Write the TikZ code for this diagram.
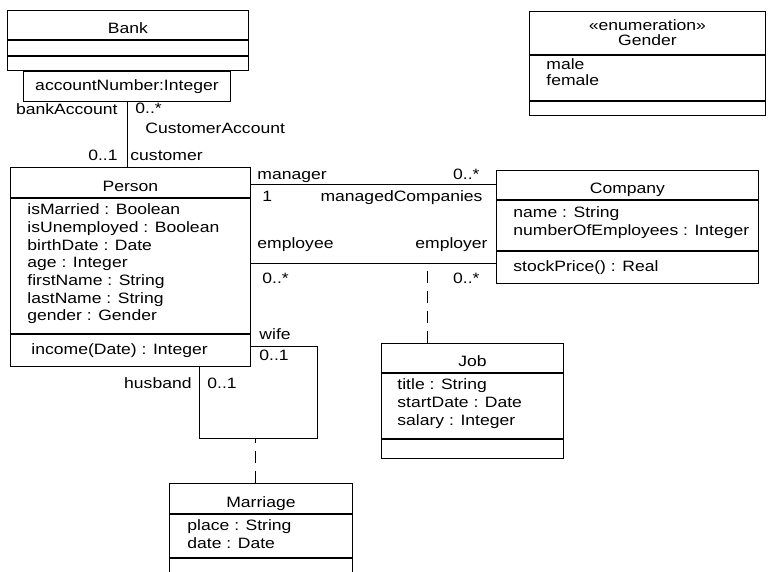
\documentclass[tikz,border=0pt]{standalone}
\usepackage{fontspec}
\setmainfont{Liberation Sans}[FakeStretch=1.17]
\usetikzlibrary{positioning}

\begin{document}
\begin{tikzpicture}[x=1pt, y=-1pt, line width=0.9pt,
    font=\fontsize{15}{17.7}\selectfont,
    compart/.style={draw, anchor=north west, inner sep=0pt, align=center},
    title/.style={text height=17.8pt, text depth=0pt},
    members/.style={anchor=north west, inner sep=0pt, align=left},
    opstext/.style={anchor=west, inner sep=0pt},
    role/.style={inner sep=0pt, yshift=-4pt},
    assocclass/.style={dash pattern=on 12pt off 8pt}]
    \useasboundingbox (0,0) rectangle (772,572);
    \clip (0,0) rectangle (772,572);

    % Classes {Bank, Gender, Person, Company, Job, Marriage}
    \node [compart, title, minimum width=241pt, minimum height=29pt] (bank) at (7,10) {Bank};
    \node [compart, minimum width=241pt, minimum height=15pt] (bankattr) at (bank.south west) {};
    \node [compart, minimum width=241pt, minimum height=14pt] (bankops)  at (bankattr.south west) {};
    \node [compart, minimum width=207pt, minimum height=30pt] (qualifier) at ([xshift=16pt]bankops.south west) {accountNumber:Integer};

    \node [compart, minimum width=236pt, minimum height=43pt] (gender)     at (529,11) {«enumeration»\\[-2.5pt]Gender};
    \node [compart, minimum width=236pt, minimum height=45pt] (genderattr) at (gender.south west) {};
    \node [compart, minimum width=236pt, minimum height=14pt] (genderops)  at (genderattr.south west) {};
    \node [members, below right=3.5pt and 17pt of genderattr.north west] (genderlits) {male\\[-1.5pt]female};

    \node [compart, title, minimum width=240pt, minimum height=30pt] (person) at (10,167) {Person};
    \node [compart, minimum width=240pt, minimum height=135pt] (personattr) at (person.south west) {};
    \node [compart, minimum width=240pt, minimum height=32pt]  (personops)  at (personattr.south west) {};
    \node [members, below right=5.5pt and 17pt of personattr.north west] (personfields)
        {isMarried : Boolean\\isUnemployed : Boolean\\birthDate : Date\\age : Integer\\firstName : String\\lastName : String\\gender : Gender};
    \node [opstext, right=21pt of personops.west] (personmethods) {income(Date) : Integer};

    \node [compart, title, minimum width=262pt, minimum height=29pt] (company) at (496,170) {Company};
    \node [compart, minimum width=262pt, minimum height=50pt] (companyattr) at (company.south west) {};
    \node [compart, minimum width=262pt, minimum height=32pt] (companyops)  at (companyattr.south west) {};
    \node [members, below right=6.5pt and 17pt of companyattr.north west] (companyfields)
        {name : String\\numberOfEmployees : Integer};
    \node [opstext, right=17pt of companyops.west] (companymethods) {stockPrice() : Real};

    \node [compart, title, minimum width=182pt, minimum height=29pt] (job) at (381,343) {Job};
    \node [compart, minimum width=182pt, minimum height=65pt] (jobattr) at (job.south west) {};
    \node [compart, minimum width=182pt, minimum height=19pt] (jobops)  at (jobattr.south west) {};
    \node [members, below right=5.5pt and 16pt of jobattr.north west] (jobfields)
        {title : String\\startDate : Date\\salary : Integer};

    \node [compart, title, minimum width=183pt, minimum height=30pt] (marriage) at (169,483) {Marriage};
    \node [compart, minimum width=183pt, minimum height=43pt] (marriageattr) at (marriage.south west) {};
    \node [compart, minimum width=183pt, minimum height=30pt] (marriageops)  at (marriageattr.south west) {};
    \node [members, below right=5.5pt and 18pt of marriageattr.north west] (marriagefields)
        {place : String\\date : Date};

    % Associations
    \draw (qualifier.south) -- (qualifier.south |- person.north);

    \coordinate (mgr) at ([yshift=-2pt]person.east);
    \draw (mgr) -- (mgr -| company.west);

    \coordinate (emp) at ([yshift=2.5pt]personattr.east);
    \draw (emp) -- (emp -| companyops.west);
    \draw [assocclass] ([xshift=-45pt]job.north) -- ([xshift=-45pt]job.north |- emp);

    \coordinate (wife)       at ([yshift=4pt]personops.east);
    \coordinate (husband)    at ([xshift=69pt]personops.south);
    \coordinate (loopcorner) at (317,438);
    \draw (wife) -| (loopcorner) -| (husband);
    \draw [assocclass] ([xshift=-5.5pt]marriage.north) -- ([xshift=-5.5pt]marriage.north |- loopcorner);

    % Role names and multiplicities
    \node [role, anchor=mid east] (bankaccount) at (118,108) {bankAccount};
    \node [role, anchor=mid west] (bankmult)    at (135,107) {0..*};
    \node [role, anchor=mid west] (custacc)     at (145,127) {CustomerAccount};
    \node [role, anchor=mid east] (custmult)    at (118,154) {0..1};
    \node [role, anchor=mid west] (customer)    at (130,154) {customer};

    \node [role, anchor=mid west] (manager)     at (257,173) {manager};
    \node [role, anchor=mid east] (mgrmult)     at (480,173) {0..*};
    \node [role, anchor=mid west] (mgrone)      at (262,195) {1};
    \node [role, anchor=mid east] (managedcomp) at (483,195) {managedCompanies};

    \node [role, anchor=mid west] (employee)    at (257,242) {employee};
    \node [role, anchor=mid east] (employer)    at (488,242) {employer};
    \node [role, anchor=mid west] (empmult)     at (262,277) {0..*};
    \node [role, anchor=mid east] (emprmult)    at (480,277) {0..*};

    \node [role, anchor=mid west] (wifelabel)   at (259,333) {wife};
    \node [role, anchor=mid west] (wifemult)    at (259,354) {0..1};
    \node [role, anchor=mid east] (husblabel)   at (192,382) {husband};
    \node [role, anchor=mid west] (husbmult)    at (207,382) {0..1};
\end{tikzpicture}
\end{document}
